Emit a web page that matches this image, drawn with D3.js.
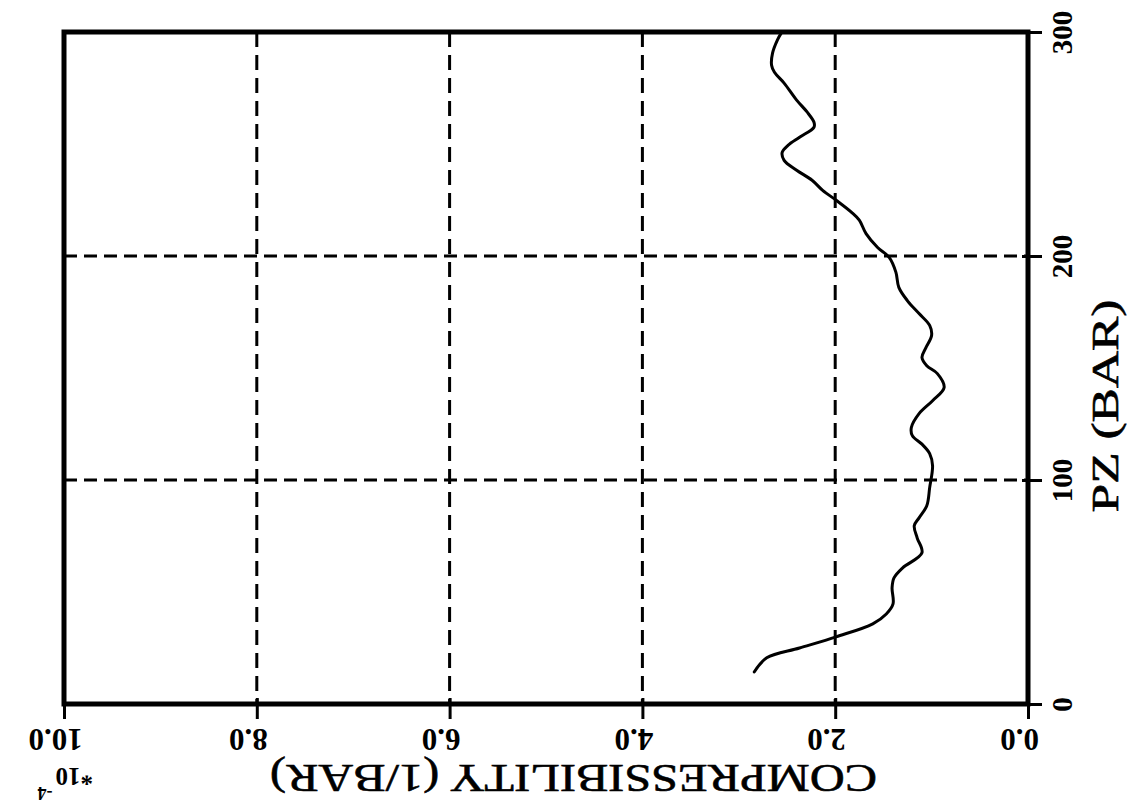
<!DOCTYPE html>
<html>
<head>
<meta charset="utf-8">
<script src="https://cdn.jsdelivr.net/npm/d3@7"></script>
<style>
  html, body { margin: 0; padding: 0; background: #fff; }
  svg { display: block; }
  text { font-family: "Liberation Serif", "DejaVu Serif", serif; fill: #000; }
</style>
</head>
<body>
<svg id="chart" width="1127" height="806"></svg>
<script>
// ---- data ----
const pzValues = [14.3, 20.6, 25, 30, 35.8, 40.2, 44.7, 51.9, 56.3, 60.8, 67.5, 74.2, 79.6, 83.1, 88.5, 96.6,
  106.4, 111.8, 116, 119.8, 123.4, 129.6, 135.4, 141.3, 147.5, 151, 154.7, 159, 164.5, 169, 174.3, 180, 186,
  192.7, 199.4, 203.8, 210, 216, 219.5, 224.9, 229.3, 233.8, 238.3, 242.7, 246.3, 249.4, 253, 257.5, 259.7,
  264.2, 269.6, 277.2, 282, 285.2, 290.6, 296.4, 299.5];
const compValues = [2.84, 2.71, 2.37, 1.99, 1.61, 1.47, 1.40, 1.41, 1.39, 1.30, 1.10, 1.15, 1.18, 1.13, 1.05, 1.02,
  0.99, 1.02, 1.10, 1.20, 1.21, 1.13, 0.99, 0.87, 0.94, 1.05, 1.10, 1.06, 1.00, 1.02, 1.13, 1.25, 1.34,
  1.37, 1.44, 1.56, 1.68, 1.75, 1.83, 1.99, 2.13, 2.24, 2.40, 2.53, 2.55, 2.49, 2.37, 2.22, 2.22,
  2.29, 2.40, 2.53, 2.63, 2.66, 2.65, 2.60, 2.56];
const compTicks = [0, 2, 4, 6, 8, 10];
const compTickLabels = ["0.0", "2.0", "4.0", "6.0", "8.0", "10.0"];
const pzTicks = [0, 100, 200, 300];
const pzTickLabels = ["0", "100", "200", "300"];
const compGrid = [2, 4, 6, 8];
const pzGrid = [100, 200];
const compTitle = "COMPRESSIBILITY (1/BAR)";
const pzTitle = "PZ (BAR)";
const scaleBase = "*10";
const scaleExp = "-4";

// ---- layout ----
const svg = d3.select("#chart");
const pL = 64, pR = 1028, pT = 32, pB = 704;
const x = d3.scaleLinear().domain([0, 10]).range([pR, pL]);
const y = d3.scaleLinear().domain([0, 300]).range([pB, pT]);

// grid
svg.append("g").selectAll("line").data(compGrid).join("line")
  .attr("x1", d => x(d)).attr("x2", d => x(d))
  .attr("y1", pT).attr("y2", pB)
  .attr("stroke", "#000").attr("stroke-width", 3)
  .attr("stroke-dasharray", "15 8");
svg.append("g").selectAll("line").data(pzGrid).join("line")
  .attr("x1", pL).attr("x2", pR)
  .attr("y1", d => y(d)).attr("y2", d => y(d))
  .attr("stroke", "#000").attr("stroke-width", 3)
  .attr("stroke-dasharray", "13 7");

// frame
svg.append("rect")
  .attr("x", pL).attr("y", pT)
  .attr("width", pR - pL).attr("height", pB - pT)
  .attr("fill", "none").attr("stroke", "#000").attr("stroke-width", 5);

// bottom axis (compressibility)
const bottomAxis = d3.axisBottom(x).tickValues(compTicks)
  .tickSize(15).tickFormat(d => compTickLabels[compTicks.indexOf(d)]);
const gb = svg.append("g").attr("transform", `translate(0,${pB})`).call(bottomAxis);
gb.select(".domain").remove();
gb.selectAll(".tick line").attr("stroke", "#000").attr("stroke-width", 3).attr("y1", -6);
gb.selectAll(".tick text")
  .attr("y", 0).attr("dy", null)
  .attr("transform", "translate(-9,25) rotate(180)")
  .attr("text-anchor", "middle")
  .style("font-size", "31px").style("font-weight", "bold")
  .style("font-family", '"Liberation Serif", serif');

// right axis (PZ)
const rightAxis = d3.axisRight(y).tickValues(pzTicks)
  .tickSize(14).tickFormat(d => pzTickLabels[pzTicks.indexOf(d)]);
const gr = svg.append("g").attr("transform", `translate(${pR},0)`).call(rightAxis);
gr.select(".domain").remove();
gr.selectAll(".tick line").attr("stroke", "#000").attr("stroke-width", 3).attr("x1", -6);
gr.selectAll(".tick text")
  .attr("x", 0).attr("dy", null)
  .attr("transform", "translate(44,0) rotate(-90)")
  .attr("text-anchor", "middle")
  .style("font-size", "29px").style("font-weight", "bold")
  .style("font-family", '"Liberation Serif", serif');

// curve
const pts = pzValues.map((p, i) => [compValues[i], p]);
svg.append("path")
  .datum(pts)
  .attr("fill", "none").attr("stroke", "#000").attr("stroke-width", 3)
  .attr("stroke-linejoin", "round").attr("stroke-linecap", "round")
  .attr("d", d3.line().x(d => x(d[0])).y(d => y(d[1])).curve(d3.curveCatmullRom.alpha(0.5)));

// titles
svg.append("text")
  .attr("transform", `translate(${(270 + 877) / 2},765) rotate(180)`)
  .attr("text-anchor", "middle")
  .attr("textLength", 607).attr("lengthAdjust", "spacingAndGlyphs")
  .style("font-size", "41px").style("stroke", "#000").style("stroke-width", 0.6)
  .text(compTitle);

svg.append("text")
  .attr("transform", `translate(1118,406) rotate(-90)`)
  .attr("text-anchor", "middle")
  .attr("textLength", 213).attr("lengthAdjust", "spacingAndGlyphs")
  .style("font-size", "38px").style("stroke", "#000").style("stroke-width", 0.6)
  .text(pzTitle);

// scale factor label (*10^-4), upside down
const sf = svg.append("text")
  .attr("transform", `translate(93,768) rotate(180)`)
  .attr("text-anchor", "start")
  .style("font-size", "25px").style("font-weight", "bold");
sf.append("tspan").text(scaleBase);
sf.append("tspan").attr("dx", 3).attr("dy", -19).style("font-size", "18px").text(scaleExp);
</script>
</body>
</html>
